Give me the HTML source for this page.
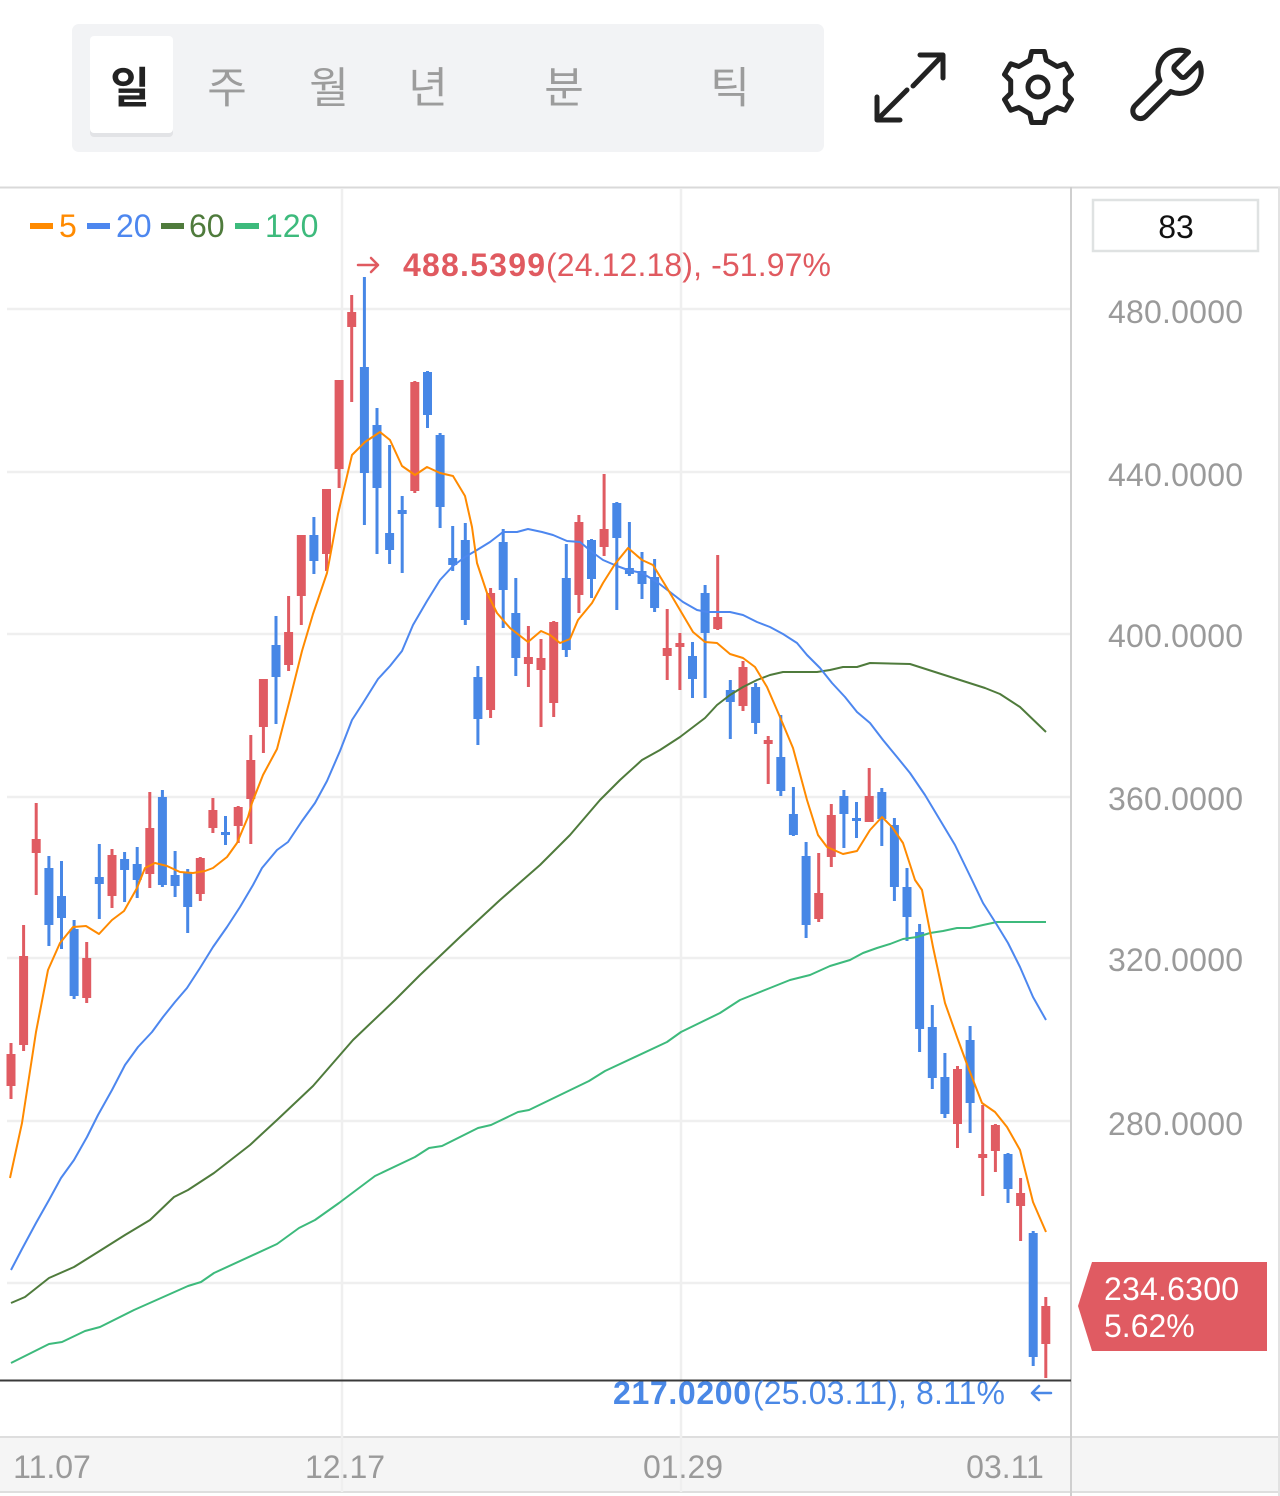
<!DOCTYPE html>
<html><head><meta charset="utf-8"><style>
html,body{margin:0;padding:0;background:#fff;}
svg{display:block;}
text{font-family:"Liberation Sans","Noto Sans CJK KR",sans-serif;}
.r{fill:#e05b62}.b{fill:#4787e6}
.ax{fill:#9a9a9a;font-size:32px}
</style></head><body>
<svg width="1280" height="1496" viewBox="0 0 1280 1496" xmlns="http://www.w3.org/2000/svg">
<rect x="0" y="0" width="1280" height="1496" fill="#fff"/>
<!-- toolbar -->
<rect x="72" y="24" width="752" height="128" rx="7" fill="#f2f3f5"/>
<rect x="90" y="39" width="83" height="98" rx="4" fill="#e2e3e6"/>
<rect x="90" y="36" width="83" height="97" rx="4" fill="#fff"/>
<text x="130" y="103" font-size="43" font-weight="bold" fill="#222" text-anchor="middle">일</text>
<text x="227" y="103" font-size="43" fill="#9c9c9c" text-anchor="middle">주</text>
<text x="329" y="103" font-size="43" fill="#9c9c9c" text-anchor="middle">월</text>
<text x="428" y="103" font-size="43" fill="#9c9c9c" text-anchor="middle">년</text>
<text x="564" y="103" font-size="43" fill="#9c9c9c" text-anchor="middle">분</text>
<text x="730" y="103" font-size="43" fill="#9c9c9c" text-anchor="middle">틱</text>
<!-- icons -->
<g fill="none" stroke="#222" stroke-width="5" stroke-linecap="round" stroke-linejoin="round">
<path d="M920,55 H943 V78 M943,55 L913,86 M877,97 V120 H900 M877,120 L907,90"/>
<polygon points="1065.3,80.7 1071.5,74.5 1065.3,63.8 1057.1,66.5 1046.2,60.2 1044.3,51.5 1031.7,51.5 1029.8,60.2 1018.9,66.5 1010.7,63.8 1004.5,74.5 1010.7,80.7 1010.7,93.3 1004.5,99.5 1010.7,110.2 1018.9,107.5 1029.8,113.8 1031.7,122.5 1044.3,122.5 1046.2,113.8 1057.1,107.5 1065.3,110.2 1071.5,99.5 1065.3,93.3"/>
<circle cx="1038" cy="87" r="10"/>
<path transform="translate(1122,43) scale(3.6)" stroke-width="1.4" d="M14.7 6.3a1 1 0 0 0 0 1.4l1.6 1.6a1 1 0 0 0 1.4 0l3.77-3.77a6 6 0 0 1-7.94 7.94l-6.91 6.91a2.12 2.12 0 0 1-3-3l6.91-6.91a6 6 0 0 1 7.94-7.94l-3.76 3.76z"/>
</g>
<!-- frame -->
<rect x="0" y="1437" width="1280" height="55" fill="#f5f5f5"/>
<line x1="0" y1="1437" x2="1280" y2="1437" stroke="#dedede" stroke-width="2"/>
<line x1="0" y1="1492" x2="1280" y2="1492" stroke="#dedede" stroke-width="2"/>
<line x1="0" y1="187.5" x2="1280" y2="187.5" stroke="#d9d9d9" stroke-width="2"/>
<line x1="1279" y1="187" x2="1279" y2="1496" stroke="#e2e2e2" stroke-width="2"/>
<!-- grid -->
<g stroke="#efefef" stroke-width="2.5">
<line x1="7" y1="309" x2="1071" y2="309"/>
<line x1="7" y1="472" x2="1071" y2="472"/>
<line x1="7" y1="634" x2="1071" y2="634"/>
<line x1="7" y1="797" x2="1071" y2="797"/>
<line x1="7" y1="958" x2="1071" y2="958"/>
<line x1="7" y1="1121" x2="1071" y2="1121"/>
<line x1="7" y1="1283" x2="1071" y2="1283"/>
<line x1="342" y1="189" x2="342" y2="1492"/>
<line x1="681" y1="189" x2="681" y2="1492"/>
</g>
<line x1="1071" y1="187" x2="1071" y2="1496" stroke="#cfcfcf" stroke-width="2"/>
<!-- candles -->
<g class="r"><rect x="9.5" y="1043" width="3" height="56"/><rect x="6.5" y="1054" width="9" height="32"/></g>
<g class="r"><rect x="22.1" y="925" width="3" height="126"/><rect x="19.1" y="956" width="9" height="89"/></g>
<g class="r"><rect x="34.7" y="803" width="3" height="92"/><rect x="31.7" y="839" width="9" height="14"/></g>
<g class="b"><rect x="47.4" y="856" width="3" height="90"/><rect x="44.4" y="868" width="9" height="57"/></g>
<g class="b"><rect x="60" y="861" width="3" height="88"/><rect x="57" y="896" width="9" height="22"/></g>
<g class="b"><rect x="72.6" y="920" width="3" height="79"/><rect x="69.6" y="929" width="9" height="67"/></g>
<g class="r"><rect x="85.2" y="942" width="3" height="61"/><rect x="82.2" y="958" width="9" height="40"/></g>
<g class="b"><rect x="97.8" y="844" width="3" height="75"/><rect x="94.8" y="877" width="9" height="7"/></g>
<g class="r"><rect x="110.5" y="849" width="3" height="59"/><rect x="107.5" y="855" width="9" height="41"/></g>
<g class="b"><rect x="123.1" y="852" width="3" height="50"/><rect x="120.1" y="859" width="9" height="11"/></g>
<g class="b"><rect x="135.7" y="847" width="3" height="51"/><rect x="132.7" y="864" width="9" height="16"/></g>
<g class="r"><rect x="148.3" y="792" width="3" height="96"/><rect x="145.3" y="828" width="9" height="46"/></g>
<g class="b"><rect x="160.9" y="790" width="3" height="97"/><rect x="157.9" y="797" width="9" height="88"/></g>
<g class="b"><rect x="173.6" y="851" width="3" height="46"/><rect x="170.6" y="875" width="9" height="11"/></g>
<g class="b"><rect x="186.2" y="869" width="3" height="64"/><rect x="183.2" y="872" width="9" height="35"/></g>
<g class="r"><rect x="198.8" y="857" width="3" height="44"/><rect x="195.8" y="858" width="9" height="36"/></g>
<g class="r"><rect x="211.4" y="798" width="3" height="35"/><rect x="208.4" y="810" width="9" height="18"/></g>
<g class="b"><rect x="224" y="816" width="3" height="29"/><rect x="221" y="832" width="9" height="3"/></g>
<g class="r"><rect x="236.7" y="806" width="3" height="37"/><rect x="233.7" y="807" width="9" height="19"/></g>
<g class="r"><rect x="249.3" y="735" width="3" height="109"/><rect x="246.3" y="760" width="9" height="39"/></g>
<g class="r"><rect x="261.9" y="679" width="3" height="74"/><rect x="258.9" y="679" width="9" height="48"/></g>
<g class="b"><rect x="274.5" y="616" width="3" height="108"/><rect x="271.5" y="645" width="9" height="32"/></g>
<g class="r"><rect x="287.1" y="596" width="3" height="75"/><rect x="284.1" y="632" width="9" height="33"/></g>
<g class="r"><rect x="299.8" y="535" width="3" height="90"/><rect x="296.8" y="535" width="9" height="61"/></g>
<g class="b"><rect x="312.4" y="517" width="3" height="57"/><rect x="309.4" y="535" width="9" height="26"/></g>
<g class="r"><rect x="325" y="489" width="3" height="82"/><rect x="322" y="489" width="9" height="65"/></g>
<g class="r"><rect x="337.6" y="380" width="3" height="108"/><rect x="334.6" y="380" width="9" height="89"/></g>
<g class="r"><rect x="350.2" y="295" width="3" height="107"/><rect x="347.2" y="312" width="9" height="15"/></g>
<g class="b"><rect x="362.9" y="277" width="3" height="248"/><rect x="359.9" y="367" width="9" height="106"/></g>
<g class="b"><rect x="375.5" y="408" width="3" height="146"/><rect x="372.5" y="425" width="9" height="63"/></g>
<g class="b"><rect x="388.1" y="445" width="3" height="119"/><rect x="385.1" y="533" width="9" height="17"/></g>
<g class="b"><rect x="400.7" y="496" width="3" height="77"/><rect x="397.7" y="510" width="9" height="4"/></g>
<g class="r"><rect x="413.3" y="381" width="3" height="112"/><rect x="410.3" y="382" width="9" height="109"/></g>
<g class="b"><rect x="426" y="371" width="3" height="57"/><rect x="423" y="372" width="9" height="43"/></g>
<g class="b"><rect x="438.6" y="433" width="3" height="95"/><rect x="435.6" y="435" width="9" height="72"/></g>
<g class="b"><rect x="451.2" y="526" width="3" height="45"/><rect x="448.2" y="558" width="9" height="7"/></g>
<g class="b"><rect x="463.8" y="523" width="3" height="102"/><rect x="460.8" y="540" width="9" height="80"/></g>
<g class="b"><rect x="476.4" y="666" width="3" height="79"/><rect x="473.4" y="677" width="9" height="42"/></g>
<g class="r"><rect x="489.1" y="588" width="3" height="130"/><rect x="486.1" y="593" width="9" height="117"/></g>
<g class="b"><rect x="501.7" y="529" width="3" height="99"/><rect x="498.7" y="542" width="9" height="48"/></g>
<g class="b"><rect x="514.3" y="578" width="3" height="98"/><rect x="511.3" y="613" width="9" height="45"/></g>
<g class="r"><rect x="526.9" y="626" width="3" height="61"/><rect x="523.9" y="657" width="9" height="7"/></g>
<g class="r"><rect x="539.5" y="639" width="3" height="88"/><rect x="536.5" y="658" width="9" height="12"/></g>
<g class="r"><rect x="552.2" y="621" width="3" height="96"/><rect x="549.2" y="622" width="9" height="81"/></g>
<g class="b"><rect x="564.8" y="544" width="3" height="113"/><rect x="561.8" y="578" width="9" height="72"/></g>
<g class="r"><rect x="577.4" y="515" width="3" height="98"/><rect x="574.4" y="522" width="9" height="73"/></g>
<g class="b"><rect x="590" y="539" width="3" height="59"/><rect x="587" y="540" width="9" height="39"/></g>
<g class="r"><rect x="602.6" y="474" width="3" height="82"/><rect x="599.6" y="529" width="9" height="18"/></g>
<g class="b"><rect x="615.3" y="502" width="3" height="108"/><rect x="612.3" y="503" width="9" height="35"/></g>
<g class="b"><rect x="627.9" y="522" width="3" height="54"/><rect x="624.9" y="568" width="9" height="6"/></g>
<g class="b"><rect x="640.5" y="552" width="3" height="47"/><rect x="637.5" y="571" width="9" height="13"/></g>
<g class="b"><rect x="653.1" y="559" width="3" height="53"/><rect x="650.1" y="577" width="9" height="31"/></g>
<g class="r"><rect x="665.7" y="609" width="3" height="71"/><rect x="662.7" y="648" width="9" height="8"/></g>
<g class="r"><rect x="678.4" y="633" width="3" height="57"/><rect x="675.4" y="643" width="9" height="4"/></g>
<g class="b"><rect x="691" y="642" width="3" height="56"/><rect x="688" y="656" width="9" height="23"/></g>
<g class="b"><rect x="703.6" y="585" width="3" height="113"/><rect x="700.6" y="593" width="9" height="40"/></g>
<g class="r"><rect x="716.2" y="555" width="3" height="75"/><rect x="713.2" y="617" width="9" height="12"/></g>
<g class="b"><rect x="728.8" y="680" width="3" height="59"/><rect x="725.8" y="690" width="9" height="12"/></g>
<g class="r"><rect x="741.5" y="661" width="3" height="50"/><rect x="738.5" y="667" width="9" height="39"/></g>
<g class="b"><rect x="754.1" y="683" width="3" height="51"/><rect x="751.1" y="687" width="9" height="36"/></g>
<g class="r"><rect x="766.7" y="736" width="3" height="48"/><rect x="763.7" y="740" width="9" height="4"/></g>
<g class="b"><rect x="779.3" y="715" width="3" height="81"/><rect x="776.3" y="757" width="9" height="34"/></g>
<g class="b"><rect x="791.9" y="787" width="3" height="49"/><rect x="788.9" y="814" width="9" height="21"/></g>
<g class="b"><rect x="804.6" y="842" width="3" height="96"/><rect x="801.6" y="856" width="9" height="69"/></g>
<g class="r"><rect x="817.2" y="853" width="3" height="69"/><rect x="814.2" y="893" width="9" height="26"/></g>
<g class="r"><rect x="829.8" y="804" width="3" height="63"/><rect x="826.8" y="815" width="9" height="42"/></g>
<g class="b"><rect x="842.4" y="790" width="3" height="58"/><rect x="839.4" y="796" width="9" height="18"/></g>
<g class="b"><rect x="855" y="802" width="3" height="36"/><rect x="852" y="818" width="9" height="3"/></g>
<g class="r"><rect x="867.7" y="768" width="3" height="54"/><rect x="864.7" y="796" width="9" height="26"/></g>
<g class="b"><rect x="880.3" y="788" width="3" height="58"/><rect x="877.3" y="792" width="9" height="27"/></g>
<g class="b"><rect x="892.9" y="818" width="3" height="83"/><rect x="889.9" y="825" width="9" height="62"/></g>
<g class="b"><rect x="905.5" y="868" width="3" height="73"/><rect x="902.5" y="887" width="9" height="30"/></g>
<g class="b"><rect x="918.1" y="924" width="3" height="128"/><rect x="915.1" y="932" width="9" height="97"/></g>
<g class="b"><rect x="930.8" y="1005" width="3" height="84"/><rect x="927.8" y="1027" width="9" height="51"/></g>
<g class="b"><rect x="943.4" y="1053" width="3" height="65"/><rect x="940.4" y="1077" width="9" height="37"/></g>
<g class="r"><rect x="956" y="1066" width="3" height="82"/><rect x="953" y="1069" width="9" height="55"/></g>
<g class="b"><rect x="968.6" y="1026" width="3" height="107"/><rect x="965.6" y="1040" width="9" height="63"/></g>
<g class="r"><rect x="981.2" y="1105" width="3" height="91"/><rect x="978.2" y="1154" width="9" height="4"/></g>
<g class="r"><rect x="993.9" y="1124" width="3" height="48"/><rect x="990.9" y="1125" width="9" height="26"/></g>
<g class="b"><rect x="1006.5" y="1153" width="3" height="50"/><rect x="1003.5" y="1154" width="9" height="35"/></g>
<g class="r"><rect x="1019.1" y="1178" width="3" height="63"/><rect x="1016.1" y="1193" width="9" height="13"/></g>
<g class="b"><rect x="1031.7" y="1231" width="3" height="135"/><rect x="1028.7" y="1233" width="9" height="124"/></g>
<g class="r"><rect x="1044.3" y="1297" width="3" height="81"/><rect x="1041.3" y="1306" width="9" height="38"/></g>
<!-- moving averages -->
<g fill="none" stroke-width="2" stroke-linejoin="round">
<polyline stroke="#3dba7c" points="11,1363 49,1344 62,1342 85,1331 100,1327 134,1310 188,1286 201,1282 214,1273 277,1244 299,1228 315,1220 339,1203 375,1176 415,1157 429,1148 442,1146 478,1128 491,1125 518,1112 529,1110 589,1081 605,1071 667,1042 681,1032 720,1013 740,1000 770,988 790,980 810,975 830,966 850,960 863,953 877,948 890,944 903,939 917,937 930,933 943,931 957,928 970,928 983,925 997,922 1046,922"/>
<polyline stroke="#4f7b3c" points="11,1303 25,1297 49,1278 74,1267 98,1252 125,1235 150,1220 174,1197 188,1190 214,1173 250,1145 277,1120 313,1086 353,1040 395,1000 420,975 460,937 500,900 540,865 570,835 600,800 620,780 642,760 660,750 680,737 705,718 717,705 730,695 743,687 757,680 770,675 783,672 817,672 830,670 843,667 857,667 870,663 910,664 935,672 960,680 985,688 1000,694 1020,707 1046,732"/>
<polyline stroke="#4d87ef" points="11,1270 22,1249 36,1223 49,1200 61,1178 74,1160 87,1137 98,1115 112,1090 125,1065 138,1047 152,1032 163,1017 175,1002 187,988 200,968 213,947 227,927 240,907 253,885 262,868 277,850 288,842 302,821 315,803 327,781 340,751 352,720 363,703 378,679 390,666 402,651 413,625 427,601 440,580 453,566 465,557 477,550 490,542 503,532 517,532 528,529 542,532 553,535 567,541 580,542 592,552 603,560 617,566 628,570 642,573 657,582 670,592 683,602 697,610 707,612 730,612 743,615 757,622 770,627 783,634 797,643 807,655 820,668 832,683 845,697 857,712 870,723 883,740 897,757 910,773 925,795 940,820 955,845 972,880 983,903 997,925 1008,943 1020,967 1033,997 1046,1020"/>
<polyline stroke="#ff8a00" points="10,1178 22,1123 36,1032 48,970 60,943 73,927 86,926 99,934 112,920 124,911 137,888 145,868 155,863 167,866 180,872 193,873 205,871 213,868 227,857 237,843 248,817 252,803 263,775 277,749 290,699 302,651 313,614 327,573 338,514 352,455 365,442 380,432 390,440 402,466 415,475 427,467 440,473 453,476 465,496 472,527 477,563 487,593 497,613 510,628 528,642 541,631 550,635 560,643 570,639 578,620 592,603 603,583 615,564 628,548 642,560 653,565 667,588 680,610 693,632 705,642 717,643 730,654 743,658 755,667 767,687 780,717 793,748 807,800 818,835 827,847 843,854 857,851 870,830 882,817 892,827 903,843 915,880 922,890 933,947 945,1003 957,1037 968,1067 982,1103 995,1112 1007,1127 1020,1150 1033,1202 1046,1232"/>
</g>
<!-- low line -->
<line x1="0" y1="1380.5" x2="1071" y2="1380.5" stroke="#3a3a3a" stroke-width="2"/>
<!-- legend -->
<rect x="30" y="223" width="23" height="6" fill="#ff8a00"/>
<text x="59" y="237" font-size="32" fill="#ff8a00">5</text>
<rect x="87" y="223" width="23" height="6" fill="#4d87ef"/>
<text x="116" y="237" font-size="32" fill="#4d87ef">20</text>
<rect x="161" y="223" width="23" height="6" fill="#4f7b3c"/>
<text x="189" y="237" font-size="32" fill="#4f7b3c">60</text>
<rect x="235" y="223" width="24" height="6" fill="#3dba7c"/>
<text x="265" y="237" font-size="32" fill="#3dba7c">120</text>
<!-- high annotation -->
<path d="M358,265 H378 M371,258 L378,265 L371,272" fill="none" stroke="#e05a60" stroke-width="2.5" stroke-linecap="round" stroke-linejoin="round"/>
<text x="403" y="276" font-size="32" font-weight="bold" fill="#e05a60" textLength="142">488.5399</text>
<text x="546" y="276" font-size="32" fill="#e05a60" textLength="285">(24.12.18), -51.97%</text>
<!-- low annotation -->
<text x="613" y="1404" font-size="32" font-weight="bold" fill="#4a88e6" textLength="138">217.0200</text>
<text x="753" y="1404" font-size="32" fill="#4a88e6" textLength="252">(25.03.11), 8.11%</text>
<path d="M1051,1393 H1032 M1039,1386 L1032,1393 L1039,1400" fill="none" stroke="#4a88e6" stroke-width="2.5" stroke-linecap="round" stroke-linejoin="round"/>
<!-- right axis -->
<rect x="1093" y="200" width="165" height="51" fill="#fff" stroke="#dfe2e2" stroke-width="2.5"/>
<text x="1176" y="238" font-size="32" fill="#111" text-anchor="middle">83</text>
<text class="ax" x="1108" y="323" textLength="135">480.0000</text>
<text class="ax" x="1108" y="486" textLength="135">440.0000</text>
<text class="ax" x="1108" y="647" textLength="135">400.0000</text>
<text class="ax" x="1108" y="810" textLength="135">360.0000</text>
<text class="ax" x="1108" y="971" textLength="135">320.0000</text>
<text class="ax" x="1108" y="1135" textLength="135">280.0000</text>
<polygon points="1092,1262 1267,1262 1267,1351 1092,1351 1078,1306" fill="#e05b62"/>
<text x="1104" y="1300" font-size="32" fill="#fff" textLength="135">234.6300</text>
<text x="1104" y="1337" font-size="32" fill="#fff">5.62%</text>
<!-- bottom axis -->
<text class="ax" x="52" y="1478" text-anchor="middle">11.07</text>
<text class="ax" x="345" y="1478" text-anchor="middle">12.17</text>
<text class="ax" x="683" y="1478" text-anchor="middle">01.29</text>
<text class="ax" x="1005" y="1478" text-anchor="middle">03.11</text>
</svg>
</body></html>
